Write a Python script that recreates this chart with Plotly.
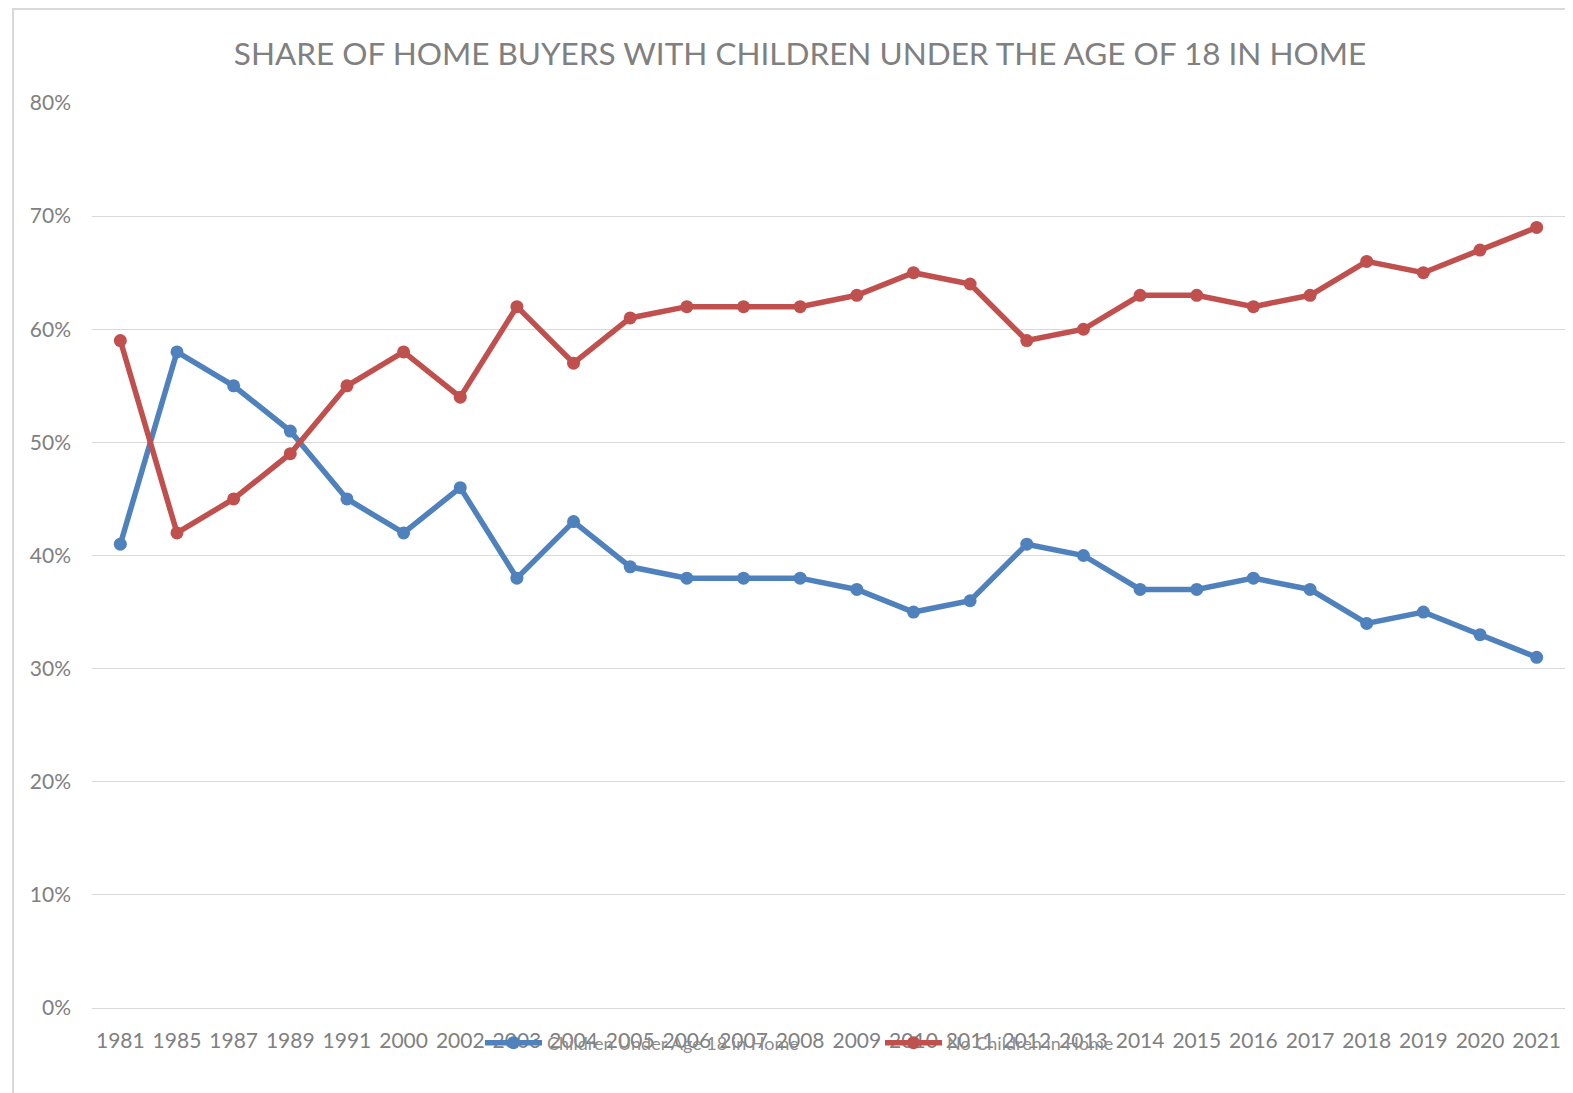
import plotly.graph_objects as go

years = ["1981", "1985", "1987", "1989", "1991", "2000", "2002", "2003", "2004", "2005",
         "2006", "2007", "2008", "2009", "2010", "2011", "2012", "2013", "2014", "2015",
         "2016", "2017", "2018", "2019", "2020", "2021"]
children = [41, 58, 55, 51, 45, 42, 46, 38, 43, 39, 38, 38, 38, 37, 35, 36, 41, 40, 37, 37,
            38, 37, 34, 35, 33, 31]
no_children = [59, 42, 45, 49, 55, 58, 54, 62, 57, 61, 62, 62, 62, 63, 65, 64, 59, 60, 63, 63,
               62, 63, 66, 65, 67, 69]

# page body has an 8px margin, so figure coords = screen coords - 8
W, H = 1565, 1085
L, R, T, B = 84, 8, 95, 85
pw, ph = W - L - R, H - T - B

def px(xs):
    return (xs - 8 - L) / pw

def py(ys):
    return 1 - (ys - 8 - T) / ph

fig = go.Figure()
fig.add_trace(go.Scatter(x=years, y=[v / 100 for v in children], mode="lines+markers",
                         name="Children Under Age 18 in Home", legend="legend",
                         line=dict(color="#4F81BD", width=5.5),
                         marker=dict(color="#4F81BD", size=13)))
fig.add_trace(go.Scatter(x=years, y=[v / 100 for v in no_children], mode="lines+markers",
                         name="No Children in Home", legend="legend2",
                         line=dict(color="#C0504D", width=5.5),
                         marker=dict(color="#C0504D", size=13)))

# outer chart border
fig.add_shape(type="rect", xref="paper", yref="paper",
              x0=px(13), x1=px(1600), y0=py(1120), y1=py(9),
              line=dict(color="#D9D9D9", width=2), fillcolor="rgba(0,0,0,0)", layer="below")

leg_common = dict(orientation="h", xanchor="left", yanchor="middle",
                  font=dict(size=18, color="#8C8C8C", family="Lato"),
                  bgcolor="rgba(0,0,0,0)", itemwidth=57)

fig.update_layout(
    width=W, height=H,
    margin=dict(l=L, r=R, t=T, b=B),
    paper_bgcolor="white", plot_bgcolor="white",
    font=dict(family="Lato", color="#808080"),
    title=dict(text="SHARE OF HOME BUYERS WITH CHILDREN UNDER THE AGE OF 18 IN HOME",
               x=(800 - 8) / W, xanchor="center", y=1 - (54 - 8) / H, yanchor="middle",
               font=dict(size=31.5, color="#808080", family="Lato")),
    showlegend=True,
    legend=dict(x=px(480), y=py(1043), **leg_common),
    legend2=dict(x=px(880), y=py(1043), **leg_common),
    xaxis=dict(type="category", showgrid=False, showline=True, linecolor="#D9D9D9",
               linewidth=1, ticks="", tickfont=dict(size=21, color="#808080"),
               range=[-0.5, len(years) - 0.5], ticklabelstandoff=14, fixedrange=True),
    yaxis=dict(range=[0, 0.8], dtick=0.1, tickformat=".0%", showgrid=True,
               gridcolor="#D9D9D9", gridwidth=1, zeroline=False, showline=False,
               ticks="", tickfont=dict(size=21, color="#808080"), ticklabelstandoff=20),
)

fig.write_html("out.html")
